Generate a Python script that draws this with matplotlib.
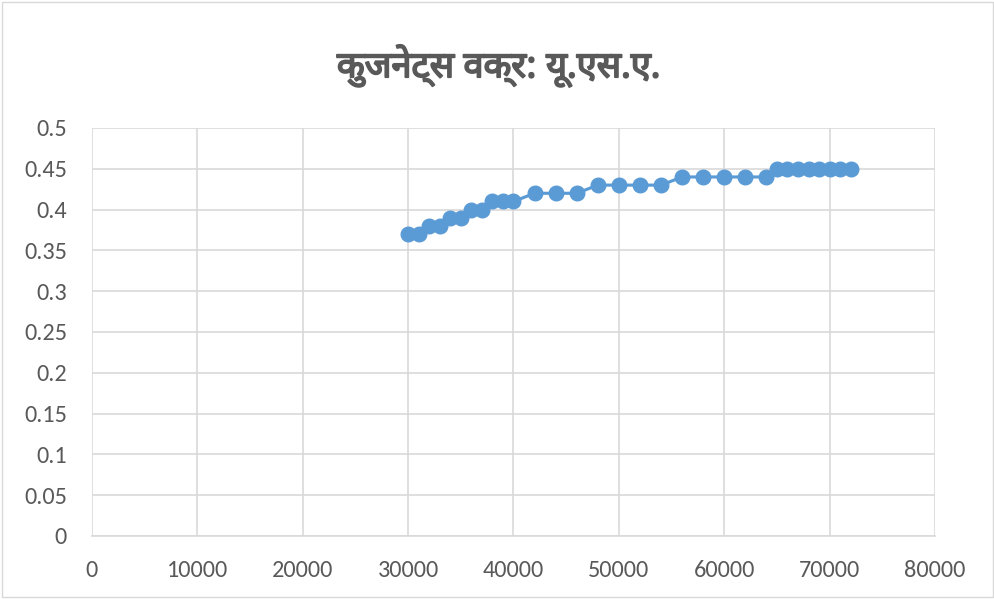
import matplotlib
matplotlib.use("Agg")
import matplotlib.pyplot as plt
import matplotlib.patheffects as pe
from matplotlib import font_manager as fm

# Kuznets curve data: income per capita vs. inequality (USA)
income = [30000, 31000, 32000, 33000, 34000, 35000, 36000, 37000, 38000, 39000,
          40000, 42000, 44000, 46000, 48000, 50000, 52000, 54000, 56000, 58000,
          60000, 62000, 64000, 65000, 66000, 67000, 68000, 69000, 70000, 71000,
          72000]
gini = [0.37, 0.37, 0.38, 0.38, 0.39, 0.39, 0.40, 0.40, 0.41, 0.41,
        0.41, 0.42, 0.42, 0.42, 0.43, 0.43, 0.43, 0.43, 0.44, 0.44,
        0.44, 0.44, 0.44, 0.45, 0.45, 0.45, 0.45, 0.45, 0.45, 0.45,
        0.45]
x_ticks = [0, 10000, 20000, 30000, 40000, 50000, 60000, 70000, 80000]
y_ticks = [0, 0.05, 0.1, 0.15, 0.2, 0.25, 0.3, 0.35, 0.4, 0.45, 0.5]
y_labels = ["0", "0.05", "0.1", "0.15", "0.2", "0.25", "0.3", "0.35", "0.4", "0.45", "0.5"]
title = "कुजनेट्स वक्र: यू.एस.ए."

available = {f.name for f in fm.fontManager.ttflist}


def first_available(cands):
    for c in cands:
        if c in available:
            return c
    return None


deva = first_available(["Noto Sans Devanagari", "Mukta", "Hind", "Poppins",
                        "Anek Devanagari", "Akshar", "Baloo 2"])
title_family = [deva, "DejaVu Sans"] if deva else ["DejaVu Sans"]
body = first_available(["Carlito", "Liberation Sans"]) or "DejaVu Sans"
tick_size = 17.5 if body == "Carlito" else 15.5

plt.rcParams["font.family"] = [body, "DejaVu Sans"]

fig = plt.figure(figsize=(9.95, 5.99), dpi=100)
fig.patch.set_facecolor("white")
ax = fig.add_axes([92 / 995, 1 - 536 / 599, (935 - 92) / 995, (536 - 128) / 599])

grid_c = "#D9D9D9"
ax.plot(income, gini, color="#5B9BD5", lw=2.25, marker="o", ms=10.5,
        markerfacecolor="#5B9BD5", markeredgecolor="#5B9BD5", zorder=3)

ax.set_xlim(0, 80000)
ax.set_ylim(0, 0.5)
ax.set_xticks(x_ticks)
ax.set_xticklabels([str(t) for t in x_ticks])
ax.set_yticks(y_ticks)
ax.set_yticklabels(y_labels)
ax.grid(True, color=grid_c, lw=1.2)
ax.set_axisbelow(True)
for s in ["top", "right", "left"]:
    ax.spines[s].set_visible(False)
ax.spines["bottom"].set_color(grid_c)
ax.spines["bottom"].set_linewidth(1.2)
ax.tick_params(length=0, labelsize=tick_size, colors="#595959")
ax.tick_params(axis="x", pad=17)
ax.tick_params(axis="y", pad=18)

fig.text(499 / 995, 1 - 66 / 599, title, ha="center", va="center",
         fontsize=26, fontweight="bold", color="#595959", family=title_family,
         path_effects=[pe.withStroke(linewidth=1.3, foreground="#595959")])

# chart outline
fig.add_artist(plt.Rectangle((2 / 995, 2 / 599), 991 / 995, 595 / 599,
                             transform=fig.transFigure, fill=False,
                             edgecolor="#D9D9D9", lw=1.0))

fig.savefig("out.png", dpi=100)
